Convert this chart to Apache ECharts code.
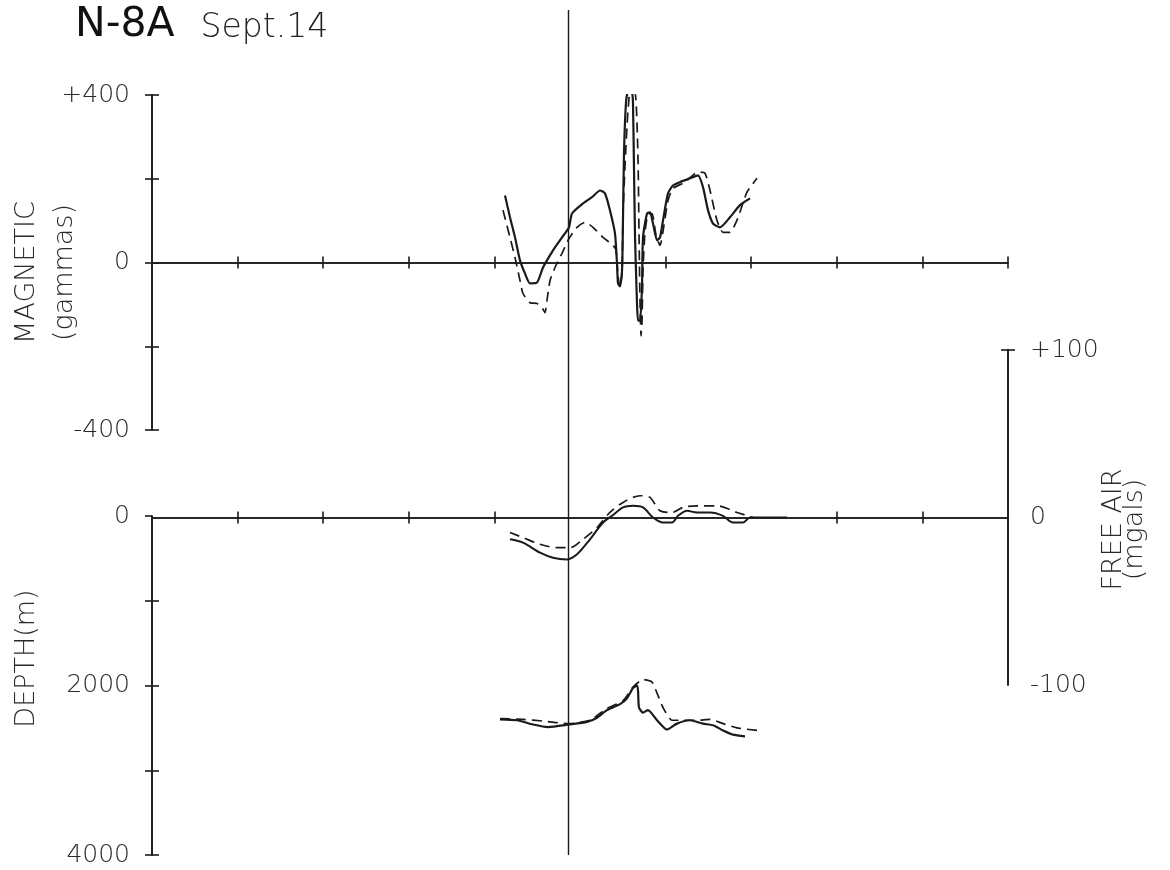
<!DOCTYPE html>
<html><head><meta charset="utf-8">
<script src="https://cdn.jsdelivr.net/npm/echarts@6/dist/echarts.min.js"></script>
<style>html,body{margin:0;padding:0;background:#fff}#c{width:1170px;height:870px}</style>
</head><body><div id="c"></div>
<script>
// distance along track (0..100, one tick = 10) and values
const magSolid = [[41.24,160],[41.82,108],[42.41,60],[42.99,5],[43.57,-26],[44.16,-50],[44.98,-48],[45.68,-12],[46.85,29],[47.90,60],[48.71,84],[49.07,117],[50.35,141],[51.40,156],[52.34,172],[52.92,165],[53.50,125],[54.09,69],[54.32,-2],[54.44,-50],[54.67,-57],[54.91,-19],[55.02,101],[55.14,261],[55.37,381],[55.61,407],[56.07,405],[56.19,381],[56.31,220],[56.43,60],[56.54,-19],[56.66,-98],[56.78,-139],[57.01,-139],[57.24,-60],[57.36,60],[57.83,117],[58.18,120],[58.53,93],[59.00,53],[59.35,60],[59.70,101],[60.28,165],[60.86,184],[61.68,192],[62.85,201],[63.79,208],[64.37,180],[64.95,125],[65.54,93],[66.36,84],[67.52,108],[68.69,137],[69.86,153]];
const magDashed = [[41.00,125],[41.82,60],[42.41,12],[42.99,-43],[43.34,-74],[44.16,-96],[44.98,-98],[45.56,-108],[45.91,-120],[46.14,-91],[46.50,-43],[47.08,-12],[47.90,22],[48.71,57],[49.65,84],[50.58,96],[51.52,84],[52.69,60],[53.86,41],[54.21,29],[54.44,-31],[54.67,-60],[54.91,-24],[55.02,113],[55.26,232],[55.61,364],[56.07,448],[56.54,388],[56.78,244],[56.89,77],[57.01,-91],[57.13,-175],[57.24,-144],[57.36,-19],[57.59,72],[57.94,115],[58.41,117],[58.88,65],[59.35,41],[59.81,89],[60.28,148],[60.86,177],[62.27,192],[63.79,216],[64.60,213],[65.19,172],[66.00,101],[66.71,72],[67.52,72],[68.34,101],[69.51,168],[70.68,201]];
const freeAirSolid = [[41.82,-13],[43.34,-15],[45.33,-21],[46.85,-24],[48.48,-25],[49.65,-22],[51.17,-13],[52.69,-3],[53.74,1],[55.02,6],[56.19,7],[57.36,6],[58.53,0],[59.70,-3],[60.75,-3],[61.45,1],[62.50,4],[63.67,3],[65.19,3],[66.71,1],[67.87,-3],[69.04,-3],[69.86,0],[74.18,0]];
const freeAirDashed = [[41.82,-9],[43.34,-12],[45.33,-16],[47.31,-18],[48.83,-18],[50.35,-13],[51.99,-6],[53.50,3],[55.02,9],[57.01,13],[58.18,12],[59.35,4],[60.75,3],[62.03,6],[63.67,7],[66.00,7],[68.34,3],[70.21,0]];
const depthSolid = [[40.65,2400],[42.64,2410],[44.51,2460],[46.26,2490],[48.71,2460],[50.82,2430],[51.99,2380],[53.15,2290],[54.67,2220],[55.49,2150],[56.19,2030],[56.66,2000],[56.78,2060],[56.89,2260],[57.36,2320],[57.94,2290],[59.00,2410],[60.16,2520],[61.33,2450],[62.85,2410],[64.37,2450],[65.54,2470],[66.71,2530],[67.87,2580],[69.28,2600]];
const depthDashed = [[40.65,2390],[43.34,2400],[45.68,2420],[48.71,2450],[51.17,2410],[53.15,2270],[55.02,2180],[56.19,2020],[57.36,1930],[58.41,1960],[59.00,2090],[59.70,2260],[60.75,2410],[62.03,2410],[63.67,2410],[65.19,2400],[66.71,2450],[68.34,2500],[70.68,2530]];
const xTicksUpper = [10,20,30,40,60,70,80,90,100];
const xTicksLower = [10,20,30,40,80,90];
const magTicks = [-400,-200,0,200,400];
const magLabels = [-400,0,400];
const depthTicksOut = [0,1000,2000,3000,4000];
const depthTicksIn = [1000,2000,3000,4000];
const depthLabels = [0,2000,4000];
const freeAirTicks = [100];
const freeAirLabels = [-100,0,100];
const refLineX = 48.6;

const INK = '#1a1a1a';
const FONT = '"DejaVu Sans ExtraLight","DejaVu Sans Light","DejaVu Sans",sans-serif';
const lbl = {color:'#2a2a2a', fontSize:25, fontFamily:FONT};
const nameLbl = {color:'#2a2a2a', fontSize:27, fontFamily:FONT};
const axLine = {show:true, lineStyle:{color:INK, width:1.6}};
const signed = v => (v > 0 ? '+' + v : String(v));
const plain = v => String(v);

function xAx(grid, ticks, inside, zeroIdx, show) {
  return {type:'value', gridIndex:grid, min:0, max:100, interval:10, position:'bottom',
    show: show,
    axisLine: Object.assign({}, axLine, {onZero:true, onZeroAxisIndex:zeroIdx}),
    axisTick:{show:true, inside:inside, length:6, customValues:ticks, lineStyle:{color:INK,width:1.6}},
    axisLabel:{show:false}, splitLine:{show:false}};
}
function yAx(grid, pos, min, max, interval, ticks, inside, labels, fmt, extra) {
  return Object.assign({type:'value', gridIndex:grid, position:pos, min:min, max:max, interval:interval,
    axisLine: Object.assign({}, axLine, {onZero:false}),
    axisTick:{show:true, inside:inside, length:7, customValues:ticks, lineStyle:{color:INK,width:1.6}},
    axisLabel: labels ? Object.assign({show:true, customValues:labels, formatter:fmt}, lbl, {margin:22}) : {show:false},
    splitLine:{show:false}, nameMoveOverlap:false}, extra || {});
}
const G = {left:152, right:162, outerBoundsMode:'none', containLabel:false};

const chart = echarts.init(document.getElementById('c'), null, {renderer:'canvas'});
chart.setOption({
  backgroundColor:'#ffffff',
  animation:false,
  title:{text:'{a|N-8A}{b|Sept.14}', left:70, top:0,
    textStyle:{fontWeight:'normal', rich:{a:{fontSize:41, fontWeight:'normal', fontFamily:'"DejaVu Sans",sans-serif', color:'#111'},
                     b:{fontSize:33, fontWeight:'normal', fontFamily:FONT, color:'#222', padding:[6,0,0,26]}}}},
  grid:[
    Object.assign({top:95, height:335}, G),
    Object.assign({top:350, height:335}, G),
    Object.assign({top:516, height:339}, G),
    Object.assign({top:10, height:845}, G)
  ],
  xAxis:[
    xAx(0, xTicksUpper, false, 0, true),
    xAx(0, xTicksUpper, true, 0, true),
    xAx(1, xTicksLower, false, 2, true),
    xAx(1, xTicksLower, true, 2, true),
    xAx(2, [], false, 4, false),
    xAx(3, [], false, 6, false)
  ],
  yAxis:[
    yAx(0,'left',-400,400,200,magTicks,false,magLabels,signed,
      {name:'MAGNETIC\n(gammas)', nameLocation:'middle', nameRotate:90, nameGap:68,
       nameTextStyle:Object.assign({}, nameLbl, {lineHeight:38, align:'center', padding:[0,20,0,0]})}),
    yAx(0,'left',-400,400,200,magTicks,true,null,null),
    yAx(1,'right',-100,100,100,freeAirTicks,false,freeAirLabels,signed,
      {name:'FREE AIR\n(mgals)', nameLocation:'middle', nameRotate:90, nameGap:95,
       nameTextStyle:Object.assign({}, nameLbl, {lineHeight:21, padding:[0,24,0,0]})}),
    yAx(1,'right',-100,100,100,freeAirTicks,true,null,null),
    yAx(2,'left',0,4000,1000,depthTicksOut,false,depthLabels,plain,
      {inverse:true, name:'DEPTH(m)', nameLocation:'middle', nameRotate:90, nameGap:112,
       nameTextStyle:Object.assign({}, nameLbl, {padding:[0,0,0,54]})}),
    yAx(2,'left',0,4000,1000,depthTicksIn,true,null,null,{inverse:true}),
    {type:'value', gridIndex:3, min:0, max:1, show:false}
  ],
  series:[
    {type:'line', name:'Magnetic (solid)', xAxisIndex:0, yAxisIndex:0, data:magSolid, showSymbol:false, smooth:0.2,
     lineStyle:{color:INK, width:2.2}},
    {type:'line', name:'Magnetic (dashed)', xAxisIndex:0, yAxisIndex:0, data:magDashed, showSymbol:false, smooth:0.2,
     lineStyle:{color:INK, width:1.7, type:[10,6]}},
    {type:'line', name:'Free air (solid)', xAxisIndex:2, yAxisIndex:2, data:freeAirSolid, showSymbol:false, smooth:0.3,
     lineStyle:{color:INK, width:2}},
    {type:'line', name:'Free air (dashed)', xAxisIndex:2, yAxisIndex:2, data:freeAirDashed, showSymbol:false, smooth:0.3,
     lineStyle:{color:INK, width:1.7, type:[10,6]}},
    {type:'line', name:'Depth (solid)', xAxisIndex:4, yAxisIndex:4, data:depthSolid, showSymbol:false, smooth:0.2,
     lineStyle:{color:INK, width:2.2}},
    {type:'line', name:'Depth (dashed)', xAxisIndex:4, yAxisIndex:4, data:depthDashed, showSymbol:false, smooth:0.2,
     lineStyle:{color:INK, width:1.7, type:[10,6]}},
    {type:'line', name:'Reference', xAxisIndex:5, yAxisIndex:6, data:[], showSymbol:false,
     markLine:{silent:true, symbol:['none','none'], label:{show:false},
       lineStyle:{color:INK, width:1.4, type:'solid'}, data:[{xAxis:refLineX}]}}
  ]
});
</script></body></html>
